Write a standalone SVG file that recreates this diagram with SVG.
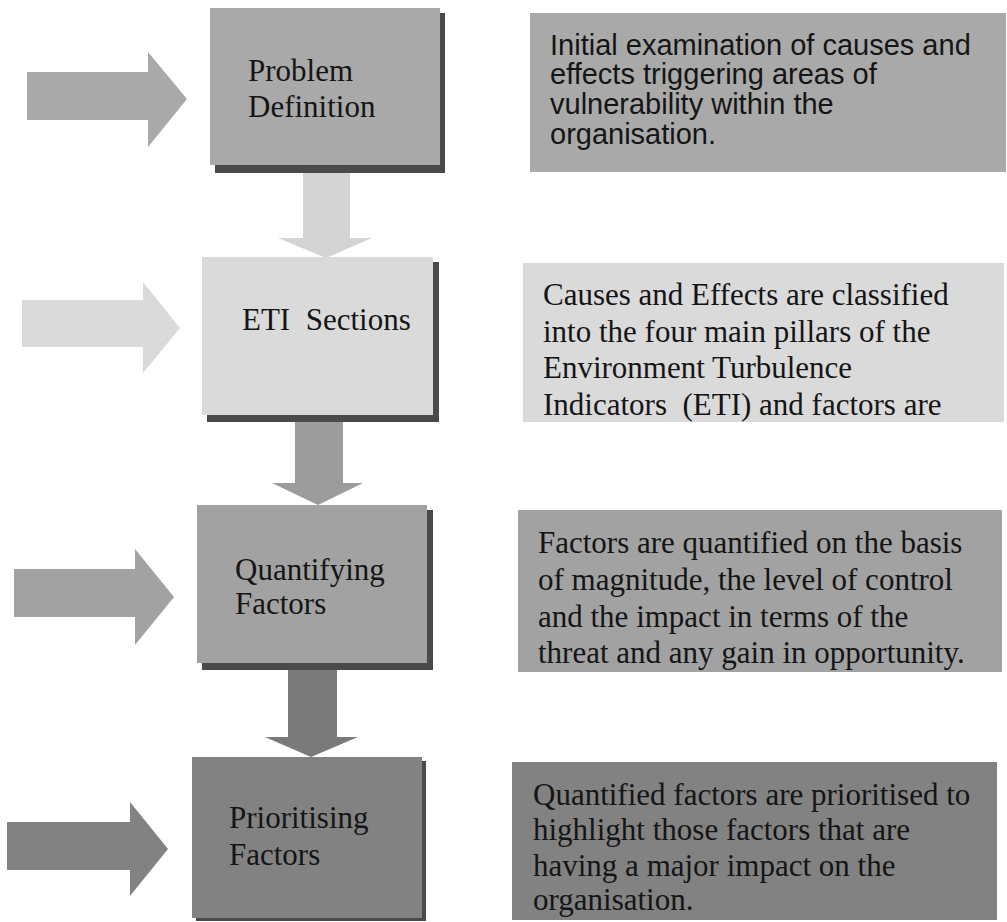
<svg xmlns="http://www.w3.org/2000/svg" width="1007" height="922" viewBox="0 0 1007 922">
<style>
.serif{font-family:"Liberation Serif","Times New Roman",serif;font-size:31px;fill:#151515;white-space:pre}
.sans{font-family:"Liberation Sans",Arial,sans-serif;font-size:29px;fill:#151515}
.shadow{fill:#4a4a4a}
.c1{fill:#a9a9a9}
.c2{fill:#dadada}
.c3{fill:#a2a2a2}
.c4{fill:#828282}
</style>
<rect width="1007" height="922" fill="#ffffff"/>
<g id="connectors">
<polygon class="c1" points="27,72 148,72 148,52 187,99 148,147 148,120 27,120"/>
<polygon class="c2" points="22,300 143,300 143,282 180,328 143,373 143,347 22,347"/>
<polygon class="c3" points="14,569 135,569 135,549 174,597 135,645 135,617 14,617"/>
<polygon class="c4" points="7,822 130,822 130,802 168,849 130,896 130,870 7,870"/>
<polygon fill="#d4d4d4" points="303,165 350,165 350,238 372,238 326,258 278,238 303,238"/>
<polygon fill="#9c9c9c" points="295,415 343,415 343,483 363,483 318,505 272,483 295,483"/>
<polygon fill="#7a7a7a" points="288,663 337,663 337,737 358,737 311,757 265,737 288,737"/>
</g>
<g id="problem-definition">
<rect class="shadow" x="215" y="13" width="230" height="160"/>
<rect class="c1" x="210" y="8" width="230" height="157"/>
<text class="serif" x="248" y="81">Problem</text>
<text class="serif" x="248" y="117">Definition</text>
</g>
<g id="eti-sections">
<rect class="shadow" x="207" y="262" width="232" height="160"/>
<rect class="c2" x="202" y="257" width="231" height="158"/>
<text class="serif" x="242" y="330">ETI  Sections</text>
</g>
<g id="quantifying-factors">
<rect class="shadow" x="202" y="510" width="231" height="160"/>
<rect class="c3" x="197" y="505" width="230" height="158"/>
<text class="serif" x="235" y="580">Quantifying</text>
<text class="serif" x="235" y="614">Factors</text>
</g>
<g id="prioritising-factors">
<rect class="shadow" x="196" y="761" width="230" height="160"/>
<rect class="c4" x="192" y="757" width="230" height="161"/>
<text class="serif" x="229" y="828">Prioritising</text>
<text class="serif" x="229" y="865">Factors</text>
</g>
<g id="desc-problem-definition">
<rect class="c1" x="530" y="13" width="476" height="159"/>
<text class="sans" x="550" y="55">Initial examination of causes and</text>
<text class="sans" x="550" y="84">effects triggering areas of</text>
<text class="sans" x="550" y="114">vulnerability within the</text>
<text class="sans" x="550" y="144">organisation.</text>
</g>
<g id="desc-eti-sections">
<rect class="c2" x="523" y="263" width="481" height="159"/>
<text class="serif" x="543" y="305">Causes and Effects are classified</text>
<text class="serif" x="543" y="342">into the four main pillars of the</text>
<text class="serif" x="543" y="378">Environment Turbulence</text>
<text class="serif" x="543" y="415">Indicators  (ETI) and factors are</text>
</g>
<g id="desc-quantifying-factors">
<rect class="c3" x="518" y="510" width="484" height="162"/>
<text class="serif" x="538" y="553">Factors are quantified on the basis</text>
<text class="serif" x="538" y="590">of magnitude, the level of control</text>
<text class="serif" x="538" y="627">and the impact in terms of the</text>
<text class="serif" x="538" y="663">threat and any gain in opportunity.</text>
</g>
<g id="desc-prioritising-factors">
<rect class="c4" x="512" y="762" width="485" height="158"/>
<text class="serif" x="533" y="805">Quantified factors are prioritised to</text>
<text class="serif" x="533" y="840">highlight those factors that are</text>
<text class="serif" x="533" y="876">having a major impact on the</text>
<text class="serif" x="533" y="910">organisation.</text>
</g>
</svg>
